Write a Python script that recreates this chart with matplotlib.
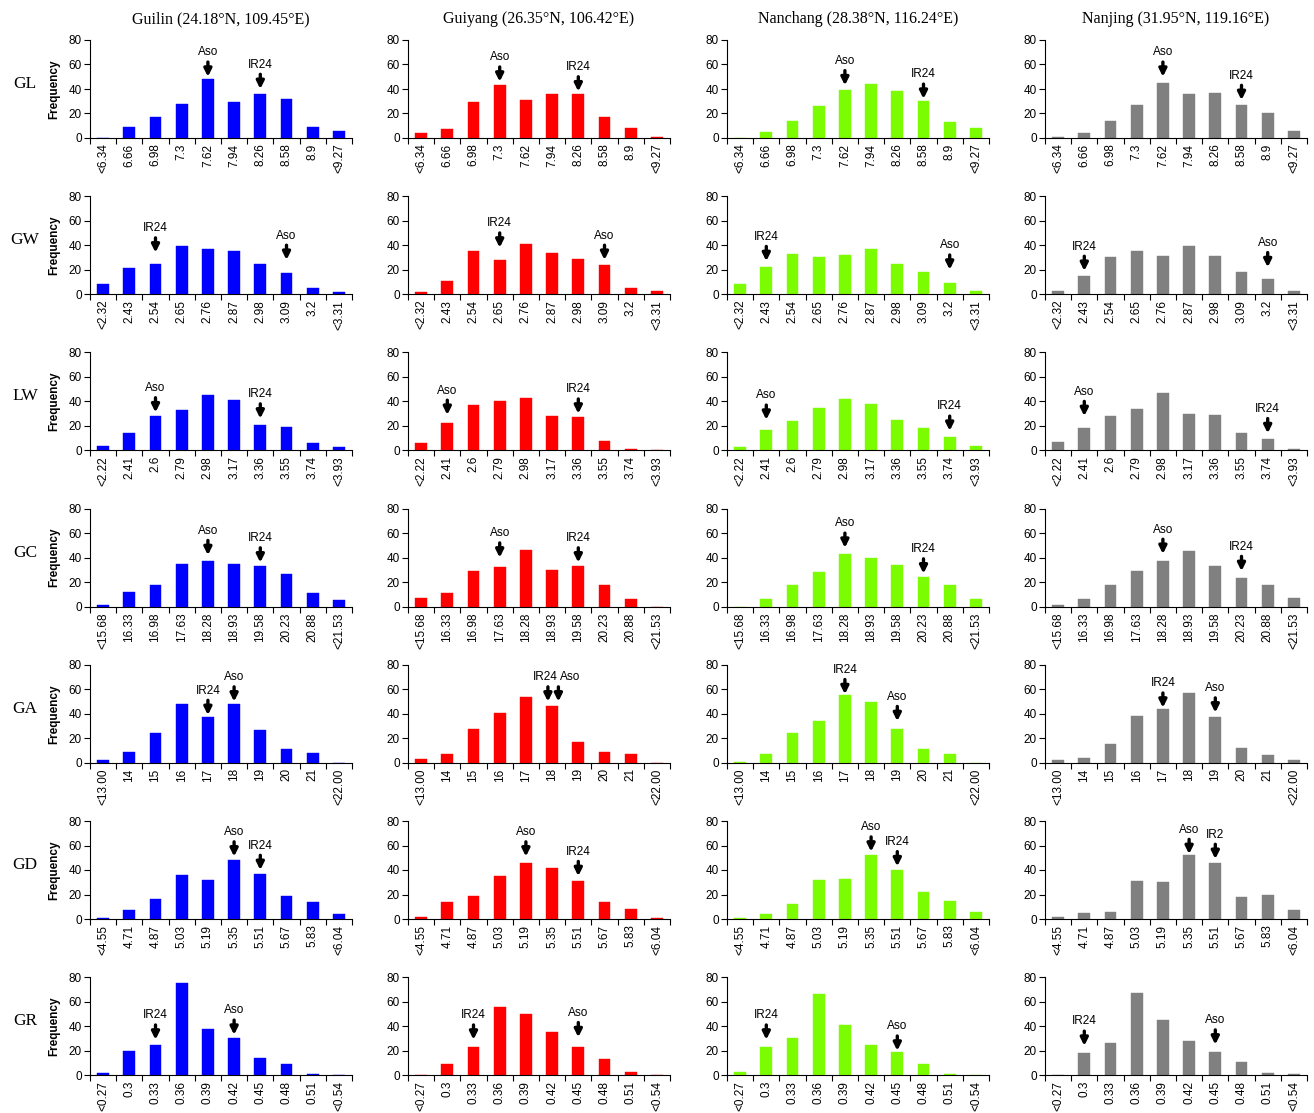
import matplotlib
matplotlib.use("Agg")
import matplotlib.pyplot as plt
import numpy as np

sites = ["Guilin (24.18°N, 109.45°E)", "Guiyang (26.35°N, 106.42°E)",
         "Nanchang (28.38°N, 116.24°E)", "Nanjing (31.95°N, 119.16°E)"]
colors = ["#0000FF", "#FF0000", "#7CFC00", "#808080"]
traits = ["GL", "GW", "LW", "GC", "GA", "GD", "GR"]

bins = {
    "GL": ["<6.34", "6.66", "6.98", "7.3", "7.62", "7.94", "8.26", "8.58", "8.9", "<9.27"],
    "GW": ["<2.32", "2.43", "2.54", "2.65", "2.76", "2.87", "2.98", "3.09", "3.2", "<3.31"],
    "LW": ["<2.22", "2.41", "2.6", "2.79", "2.98", "3.17", "3.36", "3.55", "3.74", "<3.93"],
    "GC": ["<15.68", "16.33", "16.98", "17.63", "18.28", "18.93", "19.58", "20.23", "20.88", "<21.53"],
    "GA": ["<13.00", "14", "15", "16", "17", "18", "19", "20", "21", "<22.00"],
    "GD": ["<4.55", "4.71", "4.87", "5.03", "5.19", "5.35", "5.51", "5.67", "5.83", "<6.04"],
    "GR": ["<0.27", "0.3", "0.33", "0.36", "0.39", "0.42", "0.45", "0.48", "0.51", "<0.54"],
}

# frequencies per trait, one list per site (Guilin, Guiyang, Nanchang, Nanjing)
freq = {
    "GL": [[0, 9, 17, 28, 48, 29, 36, 32, 9, 6],
           [4, 7, 29, 43, 31, 36, 36, 17, 8, 1],
           [0, 5, 14, 26, 39, 44, 38, 30, 13, 8],
           [1, 4, 14, 27, 45, 36, 37, 27, 20, 6]],
    "GW": [[8, 21, 25, 39, 37, 35, 25, 17, 5, 2],
           [2, 11, 35, 28, 41, 34, 29, 24, 5, 3],
           [8, 22, 33, 30, 32, 37, 25, 18, 9, 3],
           [3, 15, 30, 35, 31, 39, 31, 18, 12, 3]],
    "LW": [[4, 14, 28, 33, 45, 41, 21, 19, 6, 3],
           [6, 22, 37, 40, 43, 28, 27, 8, 1, 0],
           [3, 17, 24, 35, 42, 38, 25, 18, 11, 4],
           [7, 18, 28, 34, 47, 30, 29, 14, 9, 1]],
    "GC": [[1, 12, 18, 35, 37, 35, 33, 27, 11, 5],
           [7, 11, 29, 32, 46, 30, 33, 18, 6, 0],
           [0, 6, 18, 28, 43, 40, 34, 24, 18, 6],
           [1, 6, 18, 29, 37, 45, 33, 23, 18, 7]],
    "GA": [[2, 9, 24, 48, 37, 48, 27, 11, 8, 0],
           [3, 7, 28, 41, 54, 46, 17, 9, 7, 0],
           [1, 7, 24, 34, 55, 50, 28, 11, 7, 0],
           [2, 4, 15, 38, 44, 57, 37, 12, 6, 2]],
    "GD": [[1, 7, 16, 36, 32, 48, 37, 19, 14, 4],
           [2, 14, 19, 35, 46, 42, 31, 14, 8, 1],
           [1, 4, 12, 32, 33, 52, 40, 22, 15, 6],
           [2, 5, 6, 31, 30, 52, 46, 18, 20, 7]],
    "GR": [[2, 20, 25, 75, 38, 30, 14, 9, 1, 0],
           [0, 9, 23, 56, 50, 35, 23, 13, 3, 0],
           [3, 23, 30, 66, 41, 25, 19, 9, 1, 0],
           [0, 18, 26, 67, 45, 28, 19, 11, 2, 1]],
}

# parent markers: (label, bin position, arrow tip height[, label x shift])
parents = {
    "GL": [[("Aso", 4, 50), ("IR24", 6, 40)],
           [("Aso", 3, 46), ("IR24", 6, 38)],
           [("Aso", 4, 43), ("IR24", 7, 32)],
           [("Aso", 4, 50), ("IR24", 7, 31)]],
    "GW": [[("IR24", 2, 34), ("Aso", 7, 28)],
           [("IR24", 3, 38), ("Aso", 7, 28)],
           [("IR24", 1, 27), ("Aso", 8, 20)],
           [("IR24", 1, 19), ("Aso", 8, 22)]],
    "LW": [[("Aso", 2, 31), ("IR24", 6, 26)],
           [("Aso", 1, 29), ("IR24", 6, 30)],
           [("Aso", 1, 25), ("IR24", 8, 16)],
           [("Aso", 1, 28), ("IR24", 8, 14)]],
    "GC": [[("Aso", 4, 42), ("IR24", 6, 36)],
           [("Aso", 3, 40), ("IR24", 6, 36)],
           [("Aso", 4, 48), ("IR24", 7, 27)],
           [("Aso", 4, 43), ("IR24", 7, 29)]],
    "GA": [[("IR24", 4, 39), ("Aso", 5, 50)],
           [("IR24", 4.84, 50, -0.1), ("Aso", 5.24, 50, 0.45)],
           [("IR24", 4, 56), ("Aso", 6, 34)],
           [("IR24", 4, 45), ("Aso", 6, 41)]],
    "GD": [[("Aso", 5, 51), ("IR24", 6, 40)],
           [("Aso", 4, 51), ("IR24", 6, 35)],
           [("Aso", 5, 55), ("IR24", 6, 43)],
           [("Aso", 5, 53), ("IR2", 6, 49)]],
    "GR": [[("IR24", 2, 29), ("Aso", 5, 33)],
           [("IR24", 2, 29), ("Aso", 6, 31)],
           [("IR24", 1, 29), ("Aso", 6, 20)],
           [("IR24", 1, 24), ("Aso", 6, 25)]],
}

sans = "Liberation Sans"
serif = "Liberation Serif"

fig = plt.figure(figsize=(13.14, 11.13), dpi=100)
W, H = 1314.0, 1113.0
lefts = [90, 408, 727, 1045]
width = 262
height = 98

x = np.arange(10)
for r, t in enumerate(traits):
    top = 40 + 156.2 * r
    for c in range(4):
        ax = fig.add_axes([lefts[c] / W, 1 - (top + height) / H, width / W, height / H])
        ax.bar(x, freq[t][c], width=0.45, color=colors[c], edgecolor=colors[c], linewidth=0.3)
        ax.set_xlim(-0.5, 9.5)
        ax.set_ylim(0, 80)
        ax.set_yticks([0, 20, 40, 60, 80])
        ax.set_xticks(np.arange(-0.5, 10, 1))
        ax.set_xticklabels([])
        ax.set_xticks(x, minor=True)
        ax.set_xticklabels(bins[t], minor=True, rotation=90, fontsize=8.5, family=sans)
        ax.tick_params(axis="x", which="major", length=4, width=0.8, direction="out")
        ax.tick_params(axis="x", which="minor", length=0, pad=4)
        ax.tick_params(axis="y", length=4, width=0.8, labelsize=8.5, pad=2)
        for lab in ax.get_yticklabels():
            lab.set_family(sans)
        for s in ["top", "right"]:
            ax.spines[s].set_visible(False)
        for s in ["left", "bottom"]:
            ax.spines[s].set_linewidth(0.8)

        for p in parents[t][c]:
            lab, px, tip = p[0], p[1], p[2]
            dx = p[3] if len(p) > 3 else 0
            ax.annotate("", xy=(px, tip), xytext=(px, tip + 12),
                        arrowprops=dict(arrowstyle="-|>", lw=2.4, color="black",
                                        mutation_scale=11, shrinkA=0, shrinkB=0),
                        annotation_clip=False)
            ax.text(px + dx, tip + 15, lab, ha="center", va="bottom",
                    fontsize=8.5, family=sans, clip_on=False)

        if r == 0:
            ax.text(0.5, 1.13, sites[c], transform=ax.transAxes, ha="center",
                    va="bottom", fontsize=11.5, family=serif)
        if c == 0:
            ax.set_ylabel("Frequency", fontsize=8.5, fontweight="bold",
                          family=sans, labelpad=6)
            fig.text(25 / W, 1 - (top + height / 2 - 5) / H, t, ha="center",
                     va="center", fontsize=12.5, family=serif)

fig.savefig("out.png", dpi=100)
